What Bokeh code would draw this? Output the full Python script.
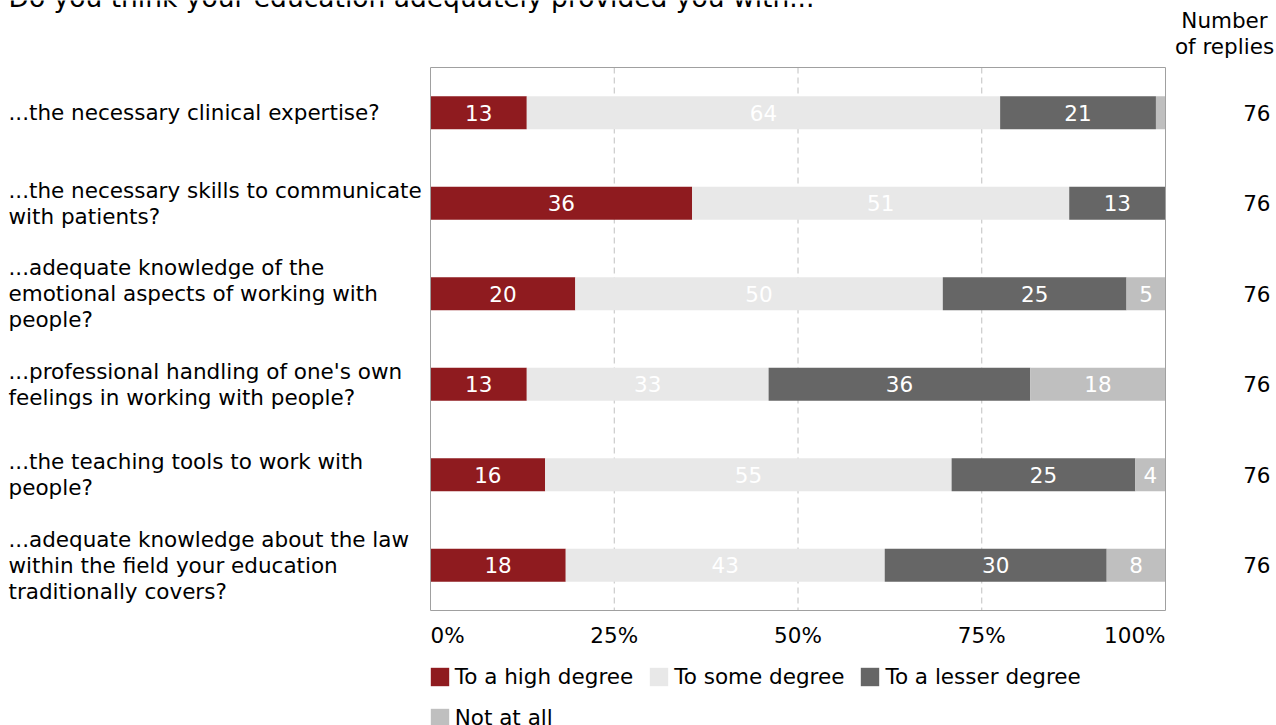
import numpy as np
from bokeh.plotting import figure
from bokeh.models import ColumnDataSource, Range1d, Label
from bokeh.core.properties import value
from bokeh.embed import file_html
from bokeh.resources import INLINE

title_text = "Do you think your education adequately provided you with..."
questions = [
    "...the necessary clinical expertise?",
    "...the necessary skills to communicate\nwith patients?",
    "...adequate knowledge of the\nemotional aspects of working with\npeople?",
    "...professional handling of one's own\nfeelings in working with people?",
    "...the teaching tools to work with\npeople?",
    "...adequate knowledge about the law\nwithin the field your education\ntraditionally covers?",
]
series_names = ["To a high degree", "To some degree", "To a lesser degree", "Not at all"]
high = [13.1, 35.6, 19.7, 13.1, 15.6, 18.4]
some = [64.4, 51.3, 50.0, 32.9, 55.3, 43.4]
lesser = [21.2, 13.1, 25.0, 35.6, 25.0, 30.2]
not_at_all = [1.3, 0.0, 5.3, 18.4, 4.1, 8.0]
replies = [76, 76, 76, 76, 76, 76]
tick_values = [0, 25, 50, 75, 100]
tick_labels = ["0%", "25%", "50%", "75%", "100%"]
grid_values = [25, 50, 75]
reply_header = ["Number", "of replies"]

colors = ["#8f1b1f", "#e8e8e8", "#666666", "#bfbfbf"]
FONT = "DejaVu Sans"
FS = "21.5px"

# canvas and plot-area geometry (pixels)
W, H = 1276, 725
PL, PR, PT, PB = 430, 1165, 67, 610
n = len(questions)
xs = (PR - PL) / 100.0           # px per percent
ysc = (PB - PT) / n              # px per category
x_start = 0 - PL / xs
x_end = 100 + (W - PR) / xs
y_top = -0.5 - PT / ysc
y_bot = (n - 0.5) + (H - PB) / ysc

keys = ["high", "some", "lesser", "not_at_all"]
ys = list(range(n))
src = ColumnDataSource(dict(y=ys, high=high, some=some, lesser=lesser, not_at_all=not_at_all))

p = figure(width=W, height=H, output_backend="svg", toolbar_location=None,
           x_range=Range1d(x_start, x_end), y_range=Range1d(y_bot, y_top),
           min_border=0)
p.title.visible = False
p.xaxis.visible = False
p.yaxis.visible = False
p.xgrid.visible = False
p.ygrid.visible = False
p.outline_line_color = None
p.background_fill_color = "white"
p.border_fill_color = "white"

# dashed vertical grid lines inside the plot area
p.segment(x0=grid_values, x1=grid_values, y0=[-0.5] * len(grid_values),
          y1=[n - 0.5] * len(grid_values), line_color="#c0c0c0", line_dash="6 4", line_width=1)

p.hbar_stack(keys, y="y", height=0.365, color=colors, source=src,
             legend_label=series_names, line_width=0)

# plot-area frame
p.quad(left=[0], right=[100], top=[-0.5], bottom=[n - 0.5], fill_color=None,
       line_color="#a0a0a0", line_width=1)

# value labels inside bars
lx, ly, lt = [], [], []
series = [high, some, lesser, not_at_all]
for i in ys:
    left = 0.0
    for s in series:
        v = s[i]
        if v >= 3:
            lx.append(left + v / 2)
            ly.append(i)
            lt.append(f"{v:.0f}")
        left += v
p.text(x=lx, y=ly, text=lt, text_align="center", text_baseline="middle",
       text_color="white", text_font=value(FONT), text_font_size=FS)

# category labels on the left
for i, q in zip(ys, questions):
    p.add_layout(Label(x=8, x_units="screen", y=i, y_units="data", text=q,
                       text_align="left", text_baseline="middle", text_font=FONT,
                       text_font_size=FS, text_color="#000000", text_line_height=1.04))

# number of replies on the right
for i, r in zip(ys, replies):
    p.add_layout(Label(x=W - 6, x_units="screen", y=i, y_units="data", text=str(r),
                       text_align="right", text_baseline="middle", text_font=FONT,
                       text_font_size=FS, text_color="#000000"))
for yy, t in zip([20, 46], reply_header):
    p.add_layout(Label(x=1224, x_units="screen", y=H - yy, y_units="screen", text=t,
                       text_align="center", text_baseline="middle", text_font=FONT,
                       text_font_size=FS, text_color="#000000"))

# x tick labels
for k, (tv, tl) in enumerate(zip(tick_values, tick_labels)):
    align = "left" if k == 0 else ("right" if k == len(tick_values) - 1 else "center")
    p.add_layout(Label(x=tv, x_units="data", y=H - 635, y_units="screen", text=tl,
                       text_align=align, text_baseline="middle", text_font=FONT,
                       text_font_size=FS, text_color="#000000"))

# title (cut at the top as in the reference)
p.add_layout(Label(x=8, x_units="screen", y=H + 3, y_units="screen", text=title_text,
                   text_align="left", text_baseline="alphabetic", text_font=FONT,
                   text_font_size="26.5px", text_color="#000000"))

lg = p.legend[0]
lg.orientation = "horizontal"
lg.ncols = 3
lg.location = (PL - 2.3, -5.5)
lg.margin = 0
lg.padding = 0
lg.spacing = 14
lg.glyph_width = 23
lg.glyph_height = 23
lg.label_height = 27
lg.label_standoff = 4
lg.label_text_font = FONT
lg.label_text_font_size = FS
lg.label_text_color = "#000000"
lg.border_line_color = None
lg.background_fill_alpha = 0

open("out.html", "w").write(file_html(p, INLINE))
